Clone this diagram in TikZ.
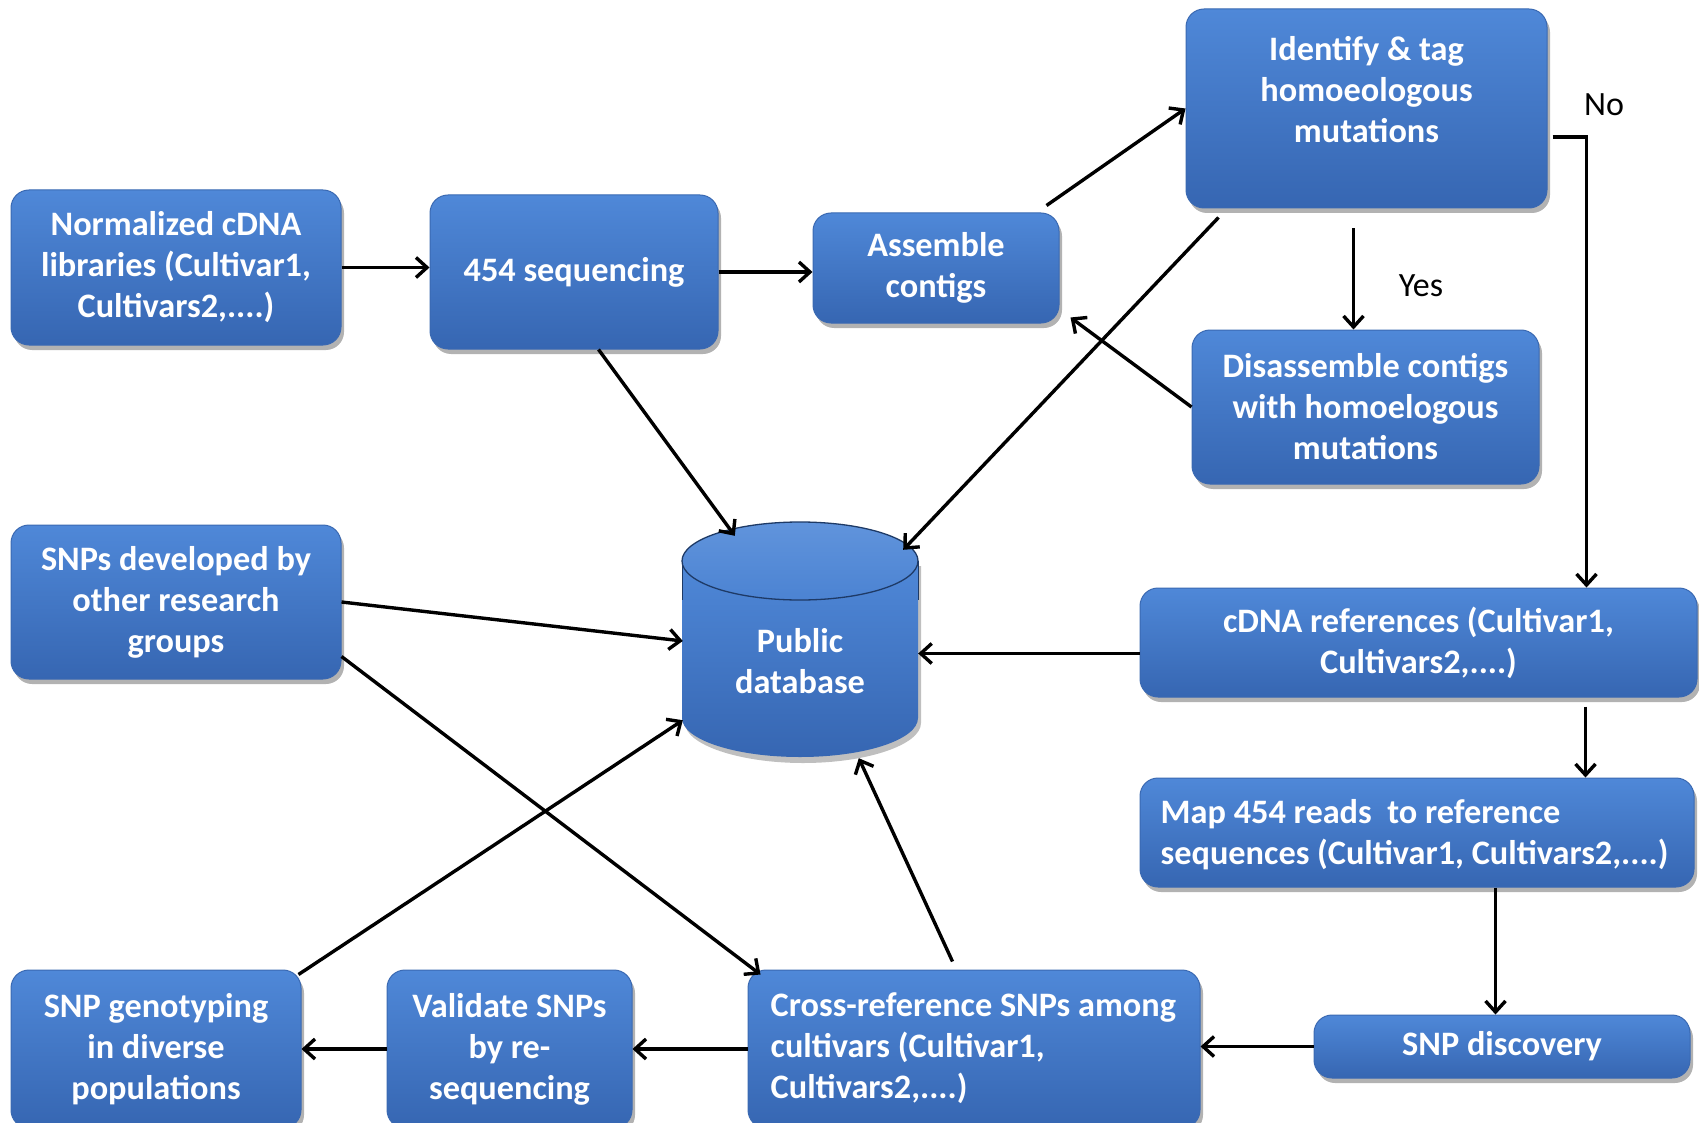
\documentclass[tikz,border=0pt]{standalone}
\usepackage{fontspec}
\setmainfont{Carlito}
\usetikzlibrary{arrows.meta,shadows,calc}
\definecolor{boxtop}{HTML}{4F88D8}
\definecolor{boxbot}{HTML}{3666B2}
\definecolor{boxedge}{HTML}{3A69B2}
\definecolor{cylline}{HTML}{1E3A66}
\begin{document}
\begin{tikzpicture}[x=1pt,y=-1pt,
  box/.style={rectangle, rounded corners=18pt, top color=boxtop, bottom color=boxbot,
    draw=boxedge, line width=1pt, text=white, font=\bfseries\fontsize{34.3}{41}\selectfont,
    align=center, inner sep=0pt,
    drop shadow={shadow xshift=3pt, shadow yshift=-5pt, opacity=0.3, fill=black}},
  txt/.style={text=white, font=\bfseries\fontsize{34.3}{41}\selectfont, inner sep=0pt},
  arr/.style={line width=3.4pt, draw=black, -{Straight Barb[length=11pt,width=20pt]}},
  lbl/.style={font=\fontsize{34}{41}\selectfont, text=black, inner sep=0pt}]
\useasboundingbox (0,0) rectangle (1699,1123);
\clip (0,0) rectangle (1699,1123);
\fill[white] (0,0) rectangle (1699,1123);

% boxes
\node[box, minimum width=330pt, minimum height=155pt] (norm) at (176,267.5) {Normalized cDNA\\libraries (Cultivar1,\\Cultivars2,....)};
\node[box, minimum width=288pt, minimum height=154pt] (seq) at (574,272) {454 sequencing};
\node[box, minimum width=246pt, minimum height=110pt] (asm) at (936,268) {Assemble\\contigs};
\node[box, minimum width=361pt, minimum height=199pt] (ident) at (1366.5,108.5) {};
\node[txt, align=center] (identtxt) at (1366.5,90) {Identify \& tag\\homoeologous\\mutations};
\node[box, minimum width=347pt, minimum height=154pt] (dis) at (1365.5,407) {Disassemble contigs\\with homoelogous\\mutations};
\node[box, minimum width=330pt, minimum height=154pt] (snpdev) at (176,602) {SNPs developed by\\other research\\groups};
\node[box, minimum width=557pt, minimum height=109pt] (cdna) at (1418.5,642.5) {cDNA references (Cultivar1,\\Cultivars2,....)};
\node[box, minimum width=554pt, minimum height=109pt] (map) at (1417,832.5) {};
\node[txt, align=left, anchor=west] (maptxt) at ($(map.west)+(21,2)$) {Map 454 reads~ to reference\\sequences (Cultivar1, Cultivars2,....)};
\node[box, minimum width=376pt, minimum height=63pt] (snpd) at (1502,1046.5) {SNP discovery};
\node[box, minimum width=452pt, minimum height=158pt] (cross) at (974,1049) {};
\node[txt, align=left, anchor=west] (crosstxt) at ($(cross.west)+(23,-1)$) {Cross-reference SNPs among\\cultivars (Cultivar1,\\Cultivars2,....)};
\node[box, minimum width=245pt, minimum height=158pt] (valid) at (509.5,1049) {Validate SNPs\\by re-\\sequencing};
\node[box, minimum width=290pt, minimum height=158pt] (geno) at (156,1049) {SNP genotyping\\in diverse\\populations};

% database cylinder
\node[minimum width=236pt, minimum height=235pt, inner sep=0pt] (db) at (800,639.5) {};
\fill[black, opacity=0.25]
  (685,566) -- (685,723) .. controls (685,744.5) and (738.8,763) .. (803,763)
  .. controls (868.2,763) and (921,744.5) .. (921,723) -- (921,566) -- cycle;
\shade[top color=boxtop, bottom color=boxbot]
  (682,561) -- (682,718) .. controls (682,739.5) and (734.8,757) .. (800,757)
  .. controls (865.2,757) and (918,739.5) .. (918,718) -- (918,561) -- cycle;
\draw[cylline, line width=1pt] (682,561) -- (682,600);
\draw[cylline, line width=1pt] (918,561) -- (918,600);
\shade[top color=boxtop!90!white, bottom color=boxtop!85!boxbot, draw=cylline, line width=1.3pt]
  (800,561) ellipse [x radius=118pt, y radius=39pt];
\node[txt, align=center] (dbtxt) at (800,661) {Public\\database};

% labels
\node[lbl] (no) at (1604,105) {No};
\node[lbl] (yes) at (1421,286) {Yes};

% connectors
\draw[arr] (norm.east) -- (norm.east -| seq.west);
\draw[arr] (seq.east) -- (seq.east -| asm.west);
\draw[arr] ($(asm.north east)+(-13,-7)$) -- (ident.west);
\draw[arr] ($(ident.south)+(-13,20)$) coordinate (ys) -- (ys |- dis.north);
\draw[arr] ($(ident.east)+(5,28.5)$) -| ($(cdna.north west)+(447,0)$);
\draw[arr] (dis.west) -- ($(asm.south east)+(11,-6)$);
\draw[arr] ($(ident.south west)+(33,9)$) -- ($(db.north east)+(-15,28)$);
\draw[arr] ($(seq.south west)+(169,0)$) -- ($(db.north west)+(53,14)$);
\draw[arr] (snpdev.east) -- ($(db.west)+(1,1.5)$);
\draw[arr] ($(snpdev.south east)+(0,-23)$) -- ($(cross.north west)+(13,5)$);
\draw[arr] ($(cdna.west)+(0,11)$) coordinate (cw) -- (cw -| db.east);
\draw[arr] ($(cdna.south west)+(446,9)$) coordinate (cs) -- (cs |- map.north);
\draw[arr] ($(map.south west)+(356,0)$) coordinate (ms) -- (ms |- snpd.north);
\draw[arr] (snpd.west) -- (snpd.west -| cross.east);
\draw[arr] ($(cross.north west)+(205,-8)$) -- ($(db.south west)+(177,1)$);
\draw[arr] (cross.west) -- (cross.west -| valid.east);
\draw[arr] (valid.west) -- (valid.west -| geno.east);
\draw[arr] ($(geno.north east)+(-3,5)$) -- ($(db.south west)+(1,-37)$);
\end{tikzpicture}
\end{document}
